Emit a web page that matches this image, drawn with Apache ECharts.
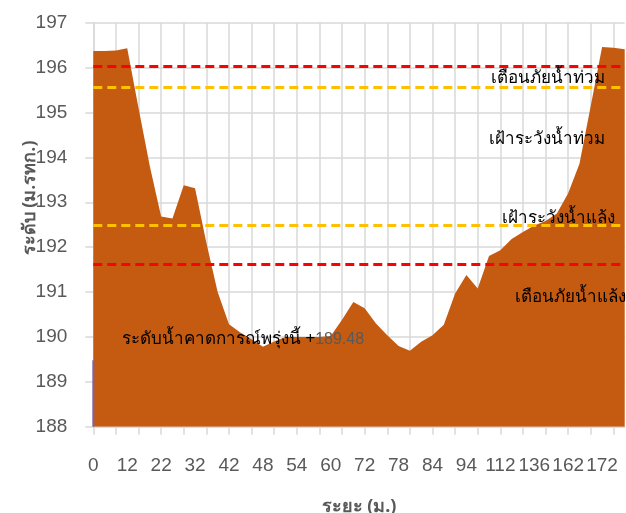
<!DOCTYPE html>
<html>
<head>
<meta charset="utf-8">
<script src="https://cdn.jsdelivr.net/npm/echarts@6/dist/echarts.min.js"></script>
<style>
html,body{margin:0;padding:0;background:#fff;}
#main{width:626px;height:513px;}
</style>
</head>
<body>
<div id="main"></div>
<script>
// Distance categories (m.)
var distances = [0,4,8,12,15,19,22,25,29,32,35,39,42,44,46,48,50,52,54,56,58,60,64,68,72,74,76,78,80,82,84,88,91,94,100,106,112,120,128,136,145,154,162,166,169,172,176,180];
// Ground / bed level (m. MSL)
var levels = [196.37,196.37,196.38,196.43,195.1,193.8,192.68,192.64,193.38,193.31,192.1,191.0,190.28,190.1,189.95,189.78,189.9,190.0,190.0,190.0,190.0,190.02,190.38,190.78,190.64,190.30,190.04,189.80,189.69,189.89,190.04,190.27,190.97,191.38,191.08,191.80,191.93,192.18,192.34,192.48,192.58,192.75,193.2,193.86,195.15,196.46,196.44,196.41];
// Forecast level tomorrow
var forecastValue = 189.48;
var forecast = [forecastValue];
// Threshold levels
var floodWarning = 196.03;
var floodWatch = 195.56;
var droughtWatch = 192.49;
var droughtWarning = 191.62;
var yMin = 188, yMax = 197, yStep = 1;

var gray = '#595959';
var gridColor = '#d9d9d9';
var thaiFont = '"Noto Sans", "Liberation Sans", sans-serif';

var chart = echarts.init(document.getElementById('main'));
var option = {
  animation: false,
  backgroundColor: '#ffffff',
  grid: {left: 93.3, right: 1.3, top: 22.7, bottom: 86.3, containLabel: false, outerBoundsMode: 'none'},
  xAxis: {
    type: 'category',
    data: distances,
    boundaryGap: false,
    name: 'ระยะ (ม.)',
    nameLocation: 'middle',
    nameGap: 71,
    nameTextStyle: {color: gray, fontSize: 18, fontWeight: 'bold', fontFamily: thaiFont},
    axisLine: {show: true, lineStyle: {color: gridColor, width: 1.5}},
    axisTick: {show: true, interval: 1, length: 8, lineStyle: {color: gridColor, width: 1.5}},
    axisLabel: {interval: 2, color: gray, fontSize: 19, margin: 30, fontFamily: '"Liberation Sans", Arial, sans-serif'},
    splitLine: {show: true, interval: 1, lineStyle: {color: gridColor, width: 1.5}}
  },
  yAxis: {
    type: 'value',
    min: yMin, max: yMax, interval: yStep,
    axisLine: {show: true, lineStyle: {color: gridColor, width: 1.5}},
    axisTick: {show: true, length: 8, lineStyle: {color: gridColor, width: 1.5}},
    axisLabel: {color: gray, fontSize: 19, margin: 26, fontFamily: '"Liberation Sans", Arial, sans-serif'},
    splitLine: {show: true, lineStyle: {color: gridColor, width: 1.5}}
  },
  series: [
    {
      name: 'ระดับท้องน้ำ',
      type: 'line',
      data: levels,
      symbol: 'none',
      lineStyle: {width: 0},
      areaStyle: {color: '#C55A11', opacity: 1, origin: 'start'},
      z: 2,
      markLine: {
        silent: true,
        symbol: 'none',
        label: {show: false},
        data: [
          {yAxis: floodWarning, lineStyle: {color: '#FF0000', type: [9, 5], width: 3}},
          {yAxis: floodWatch, lineStyle: {color: '#FFC000', type: [9, 5], width: 3}},
          {yAxis: droughtWatch, lineStyle: {color: '#FFC000', type: [9, 5], width: 3}},
          {yAxis: droughtWarning, lineStyle: {color: '#FF0000', type: [9, 5], width: 3}}
        ]
      }
    },
    {
      name: 'ระดับน้ำคาดการณ์',
      type: 'bar',
      data: forecast,
      barWidth: 2,
      itemStyle: {color: '#8064A2'},
      z: 3
    }
  ]
};
chart.setOption(option);

function py(v){ return chart.convertToPixel({yAxisIndex: 0}, v); }
var rightEdge = chart.convertToPixel({xAxisIndex: 0}, distances.length - 1);
var textStyle = {fill: '#000', fontSize: 17, fontFamily: thaiFont};
chart.setOption({
  graphic: [
    {type: 'text', right: 626 - (rightEdge - 20), top: py(floodWarning) + 3,
     style: Object.assign({text: 'เตือนภัยน้ำท่วม'}, textStyle), z: 10},
    {type: 'text', right: 626 - (rightEdge - 20), top: py(floodWatch) + 43,
     style: Object.assign({text: 'เฝ้าระวังน้ำท่วม'}, textStyle), z: 10},
    {type: 'text', right: 626 - (rightEdge - 10), top: py(droughtWatch) - 15,
     style: Object.assign({text: 'เฝ้าระวังน้ำแล้ง'}, textStyle), z: 10},
    {type: 'text', right: 626 - (rightEdge + 1), top: py(droughtWarning) + 24,
     style: Object.assign({text: 'เตือนภัยน้ำแล้ง'}, textStyle), z: 10},
    {type: 'text', left: 122, top: py(190) - 6,
     style: {text: '{a|ระดับน้ำคาดการณ์พรุ่งนี้ +}{b|' + forecastValue.toFixed(2) + '}',
       rich: {a: {fill: '#000', fontSize: 17, fontFamily: thaiFont},
              b: {fill: gray, fontSize: 16, fontFamily: '"Liberation Sans", Arial, sans-serif'}}}, z: 10},
    {type: 'text', x: 30, y: 198, rotation: Math.PI / 2,
     style: {text: 'ระดับ (ม.รทก.)', fill: gray, fontSize: 18, fontWeight: 'bold', fontFamily: thaiFont,
             align: 'center', verticalAlign: 'middle'}, z: 10}
  ]
});
</script>
</body>
</html>
